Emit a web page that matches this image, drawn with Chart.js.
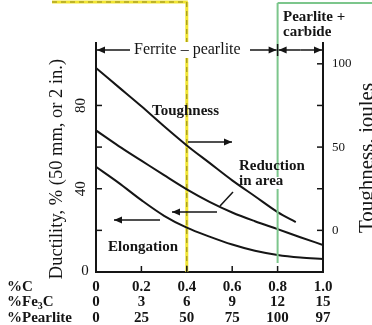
<!DOCTYPE html>
<html><head><meta charset="utf-8">
<script src="https://cdn.jsdelivr.net/npm/chart.js@4.4.0/dist/chart.umd.min.js"></script>
<style>html,body{margin:0;padding:0;background:#fff}#w{width:372px;height:325px}</style>
</head><body><div id="w"><canvas id="c" width="372" height="325"></canvas></div>
<script>
// ---- data ----
const carbonTicks=[0,0.2,0.4,0.6,0.8,1.0];
const carbonLabels=['0','0.2','0.4','0.6','0.8','1.0'];
const fe3cLabels=['0','3','6','9','12','15'];
const pearliteLabels=['0','25','50','75','100','97'];
const rowLabels=['%C','%Fe','%Pearlite'];
const ductilityTicks=[0,20,40,60,80];
const ductilityLabels=['0','','40','','80'];
const toughnessTicks=[0,25,50,75,100];
const toughnessLabels=['0','','50','','100'];
const carbonX=[0,0.1,0.2,0.3,0.4,0.5,0.6,0.7,0.8,0.9,1.0];
const toughnessX=[0,0.1,0.2,0.3,0.4,0.5,0.6,0.7,0.8,0.88];
const toughness=[97.5,86,74.5,62.5,51,40.5,30,20.5,11,5];
const reductionInArea=[68,60.5,53.5,46.5,39.7,33.7,28.6,24.4,20.6,16.7,13];
const elongation=[50.5,42.8,34.5,27,21.3,17,13.2,10.2,8.2,7,6.3];

const SERIF='"Liberation Serif","Times New Roman",serif';
const INK='#151515';
const pts=(xs,ys)=>ys.map((y,i)=>({x:xs[i],y}));

function arrow(ctx,x1,y1,x2,y2){
  ctx.beginPath();ctx.moveTo(x1,y1);ctx.lineTo(x2,y2);ctx.stroke();
  const a=Math.atan2(y2-y1,x2-x1),L=8,W=3.5;
  ctx.beginPath();ctx.moveTo(x2,y2);
  ctx.lineTo(x2-L*Math.cos(a)+W*Math.sin(a),y2-L*Math.sin(a)-W*Math.cos(a));
  ctx.lineTo(x2-L*Math.cos(a)-W*Math.sin(a),y2-L*Math.sin(a)+W*Math.cos(a));
  ctx.closePath();ctx.fill();
}
function seg(ctx,x1,y1,x2,y2){ctx.beginPath();ctx.moveTo(x1,y1);ctx.lineTo(x2,y2);ctx.stroke();}

const backDeco={id:'backDeco',beforeDatasetsDraw(chart){
  const ctx=chart.ctx;const xs=chart.scales.x;const {bottom}=chart.chartArea;
  const xv=xs.getPixelForValue(0.4);
  ctx.save();
  ctx.strokeStyle='#f0e432';ctx.lineWidth=3;
  seg(ctx,52,2,xv+1,2);
  seg(ctx,xv,2,xv,42);
  seg(ctx,xv,58,xv,bottom);
  ctx.strokeStyle='rgba(110,100,20,0.75)';ctx.lineWidth=1;ctx.setLineDash([5,4]);
  seg(ctx,52,2,xv,2);
  seg(ctx,xv,2,xv,42);
  seg(ctx,xv,58,xv,bottom);
  ctx.restore();
}};

const deco={id:'deco',afterDraw(chart){
  const ctx=chart.ctx;const {left,right,top,bottom}=chart.chartArea;
  const xs=chart.scales.x,yl=chart.scales.yL,yr=chart.scales.yR;
  ctx.save();
  ctx.strokeStyle=INK;ctx.fillStyle=INK;ctx.lineWidth=1.5;
  ductilityTicks.forEach(v=>{if(v===0)return;const y=yl.getPixelForValue(v);seg(ctx,left,y,left+6,y);});
  toughnessTicks.forEach(v=>{const y=yr.getPixelForValue(v);seg(ctx,right-6,y,right,y);});
  carbonTicks.forEach(v=>{if(v===0||v===1)return;const x=xs.getPixelForValue(v);seg(ctx,x,bottom,x,bottom-6);});
  const xg=xs.getPixelForValue(0.8);
  ctx.strokeStyle='#7cc68c';ctx.lineWidth=2;
  seg(ctx,xg,3,372,3);
  seg(ctx,xg,3,xg,177);
  seg(ctx,xg,189,xg,263);
  ctx.strokeStyle=INK;ctx.lineWidth=1.5;
  ctx.font='15px '+SERIF;
  ductilityTicks.forEach((v,i)=>{const t=ductilityLabels[i];if(!t)return;const y=yl.getPixelForValue(v);
    if(v===0){ctx.textAlign='center';ctx.textBaseline='middle';ctx.fillText(t,85,y-1);}
    else{ctx.save();ctx.translate(81,y);ctx.rotate(-Math.PI/2);ctx.textAlign='center';ctx.textBaseline='middle';ctx.fillText(t,0,0);ctx.restore();}
  });
  ctx.save();ctx.translate(57,169);ctx.rotate(-Math.PI/2);ctx.font='18.5px '+SERIF;ctx.textAlign='center';ctx.textBaseline='middle';
  ctx.fillText('Ductility, % (50 mm, or 2 in.)',0,0);ctx.restore();
  ctx.save();ctx.translate(367,158);ctx.rotate(-Math.PI/2);ctx.font='21px '+SERIF;ctx.textAlign='center';ctx.textBaseline='middle';
  ctx.fillText('Toughness, joules',0,0);ctx.restore();
  ctx.font='bold 15px '+SERIF;ctx.textAlign='left';ctx.textBaseline='middle';
  const rowY=[287,302.5,318];
  ctx.fillText(rowLabels[0],7,rowY[0]);
  ctx.fillText(rowLabels[1],7,rowY[1]);
  let w=ctx.measureText(rowLabels[1]).width;
  ctx.font='bold 10px '+SERIF;ctx.fillText('3',7+w,rowY[1]+4);
  const w3=ctx.measureText('3').width;
  ctx.font='bold 15px '+SERIF;ctx.fillText('C',7+w+w3,rowY[1]);
  ctx.fillText(rowLabels[2],7,rowY[2]);
  const yr0=50;
  ctx.font='16px '+SERIF;ctx.textBaseline='middle';ctx.textAlign='left';
  ctx.fillText('Ferrite \u2013 pearlite',134,yr0);
  arrow(ctx,130,yr0,left+1,yr0);
  arrow(ctx,250,yr0,xg-1,yr0);
  seg(ctx,xg,yr0-6,xg,yr0+6);
  arrow(ctx,(xg+right)/2,yr0,xg+1,yr0);
  arrow(ctx,(xg+right)/2,yr0,right-1,yr0);
  seg(ctx,right,top,right,yr0+6);
  ctx.font='bold 15px '+SERIF;
  ctx.fillText('Pearlite +',283,17);
  ctx.fillText('carbide',283,32);
  ctx.fillText('Toughness',152,111);
  ctx.fillText('Reduction',239,166);
  ctx.fillText('in area',239,181);
  ctx.fillText('Elongation',108,247);
  arrow(ctx,188,142,232,142);
  seg(ctx,233,192,220,206);
  arrow(ctx,217,212,172,212);
  arrow(ctx,160,220,114,220);
  ctx.restore();
}};

new Chart(document.getElementById('c'),{
  type:'line',
  data:{datasets:[
    {label:'Toughness',yAxisID:'yR',data:pts(toughnessX,toughness)},
    {label:'Reduction in area',yAxisID:'yL',data:pts(carbonX,reductionInArea)},
    {label:'Elongation',yAxisID:'yL',data:pts(carbonX,elongation)}
  ]},
  options:{
    responsive:false,animation:false,
    layout:{padding:{top:43,left:0,right:0,bottom:0}},
    elements:{line:{borderColor:INK,borderWidth:2,tension:0.4,cubicInterpolationMode:'monotone'},point:{radius:0}},
    plugins:{legend:{display:false},tooltip:{enabled:false}},
    scales:{
      x:{type:'linear',position:'bottom',min:0,max:1,
        grid:{display:false,drawTicks:false},border:{display:true,color:INK,width:2},
        afterBuildTicks:s=>{s.ticks=carbonTicks.map(v=>({value:v}));},
        afterFit:s=>{s.height=53;},
        ticks:{autoSkip:false,maxRotation:0,minRotation:0,padding:7,color:INK,
          font:{family:SERIF,size:15,weight:'bold',lineHeight:1.03},
          callback:(v,i)=>[carbonLabels[i],fe3cLabels[i],pearliteLabels[i]]}},
      yL:{type:'linear',position:'left',min:0,max:110,
        grid:{display:false,drawTicks:false},border:{display:true,color:INK,width:2},
        afterBuildTicks:s=>{s.ticks=ductilityTicks.map(v=>({value:v}));},
        afterFit:s=>{s.width=96;},
        ticks:{display:false}},
      yR:{type:'linear',position:'right',min:-25,max:112.5,
        grid:{display:false,drawTicks:false},border:{display:true,color:INK,width:2},
        afterBuildTicks:s=>{s.ticks=toughnessTicks.map(v=>({value:v}));},
        afterFit:s=>{s.width=49;},
        ticks:{padding:9,color:INK,font:{family:SERIF,size:13},
          callback:(v,i)=>toughnessLabels[i]}}
    }
  },
  plugins:[backDeco,deco]
});
</script>
</body></html>
